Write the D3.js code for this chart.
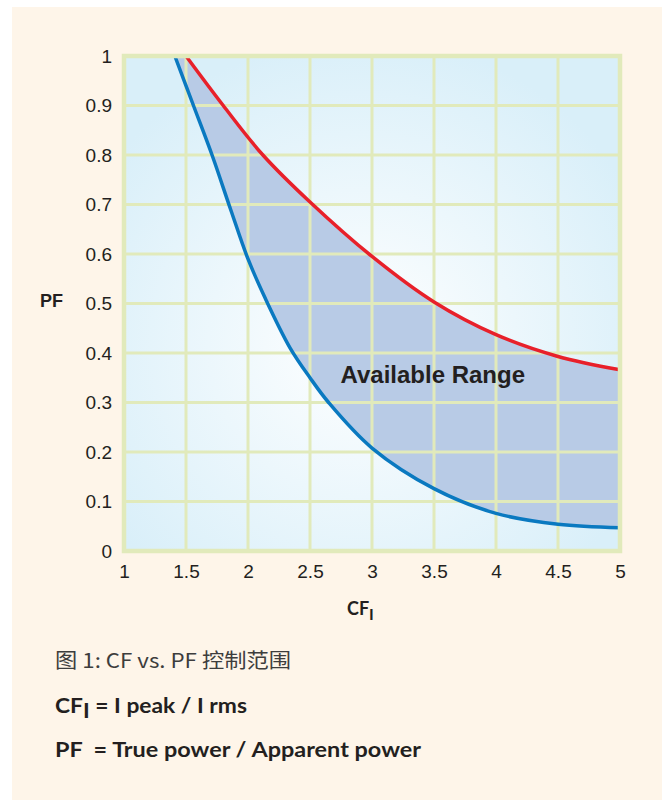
<!DOCTYPE html>
<html>
<head>
<meta charset="utf-8">
<script src="https://cdn.jsdelivr.net/npm/d3@7"></script>
<style>
  body { margin: 0; background: #fff; }
  svg { display: block; }
</style>
</head>
<body>
<svg id="chart" width="668" height="800"></svg>
<script>
// crest factor ticks and power factor ticks
const xTicks = [1, 1.5, 2, 2.5, 3, 3.5, 4, 4.5, 5];
const yTicks = [0, 0.1, 0.2, 0.3, 0.4, 0.5, 0.6, 0.7, 0.8, 0.9, 1];

// upper limit (red)
const upperCF = [1.5, 1.8, 2.12, 2.5, 3, 3.5, 4, 4.5, 5];
const upperPF = [1.0, 0.9, 0.8, 0.705, 0.595, 0.503, 0.437, 0.393, 0.366];

// lower limit (blue)
const lowerCF = [1.41, 1.56, 1.71, 1.86, 2, 2.14, 2.34, 2.5, 2.65, 3, 3.5, 4, 4.5, 5];
const lowerPF = [1.0, 0.9, 0.8, 0.69, 0.59, 0.51, 0.41, 0.35, 0.3, 0.208, 0.126, 0.076, 0.054, 0.047];

const svg = d3.select("#chart");

const x = d3.scaleLinear().domain([1, 5]).range([124, 620]);
const y = d3.scaleLinear().domain([0, 1]).range([551, 56]);

const gridColor = "#e1eabb";
const ink = "#231f20";
const sans = "'Liberation Sans', Arial, sans-serif";
const myriad = "Lato, 'Noto Sans', sans-serif";

// page panel
svg.append("rect")
  .attr("x", 12).attr("y", 7)
  .attr("width", 650).attr("height", 793)
  .attr("fill", "#fef5e9");

const defs = svg.append("defs");
const grad = defs.append("radialGradient")
  .attr("id", "plotBg")
  .attr("cx", "48%").attr("cy", "58%").attr("r", "62%");
grad.append("stop").attr("offset", "0%").attr("stop-color", "#ffffff");
grad.append("stop").attr("offset", "100%").attr("stop-color", "#d9eff9");

svg.append("rect")
  .attr("x", x(1)).attr("y", y(1))
  .attr("width", x(5) - x(1)).attr("height", y(0) - y(1))
  .attr("fill", "url(#plotBg)");

const upper = upperCF.map((c, i) => [c, upperPF[i]]);
const lower = lowerCF.map((c, i) => [c, lowerPF[i]]);

const line = d3.line()
  .x((d) => x(d[0]))
  .y((d) => y(d[1]))
  .curve(d3.curveCatmullRom.alpha(0.5));

// shaded available range: lower curve out, upper curve back
const upperBack = upper.slice().reverse();
svg.append("path")
  .attr("d", line(lower) + "L" + line(upperBack).slice(1) + "Z")
  .attr("fill", "#b8cbe6");

// grid
const grid = svg.append("g").attr("stroke", gridColor).attr("stroke-width", 3);
grid.selectAll(".vx")
  .data(xTicks.slice(1, -1))
  .join("line")
  .attr("class", "vx")
  .attr("x1", (d) => x(d)).attr("x2", (d) => x(d))
  .attr("y1", y(1)).attr("y2", y(0));
grid.selectAll(".hy")
  .data(yTicks.slice(1, -1))
  .join("line")
  .attr("class", "hy")
  .attr("y1", (d) => y(d)).attr("y2", (d) => y(d))
  .attr("x1", x(1)).attr("x2", x(5));

// curves
svg.append("path")
  .attr("d", line(upper))
  .attr("fill", "none")
  .attr("stroke", "#e8202a")
  .attr("stroke-width", 3.5);

svg.append("path")
  .attr("d", line(lower))
  .attr("fill", "none")
  .attr("stroke", "#0a79c0")
  .attr("stroke-width", 3.5);

// frame
svg.append("rect")
  .attr("x", x(1)).attr("y", y(1))
  .attr("width", x(5) - x(1)).attr("height", y(0) - y(1))
  .attr("fill", "none")
  .attr("stroke", gridColor)
  .attr("stroke-width", 4.5);

// axes (labels only, the frame and grid stand in for the domain)
const xAxis = svg.append("g")
  .attr("transform", `translate(0,${y(0) + 2})`)
  .call(d3.axisBottom(x).tickValues(xTicks).tickFormat(d3.format("")).tickSize(0).tickPadding(12));
const yAxis = svg.append("g")
  .attr("transform", `translate(${x(1) - 2},0)`)
  .call(d3.axisLeft(y).tickValues(yTicks).tickFormat(d3.format("")).tickSize(0).tickPadding(10));

[xAxis, yAxis].forEach((g) => {
  g.select(".domain").remove();
  g.selectAll("text")
    .attr("font-family", sans)
    .attr("font-size", 19)
    .attr("fill", ink);
});

svg.append("text")
  .attr("x", 40).attr("y", 307)
  .attr("font-family", sans)
  .attr("font-weight", "bold")
  .attr("font-size", 18)
  .attr("fill", ink)
  .text("PF");

const cfLabel = svg.append("text")
  .attr("x", 347).attr("y", 615)
  .attr("font-family", myriad)
  .attr("font-weight", "bold")
  .attr("font-size", 18)
  .attr("fill", ink);
cfLabel.append("tspan").text("CF");
cfLabel.append("tspan").attr("dy", 5).attr("font-size", 16).text("I");

svg.append("text")
  .attr("x", x(3.49)).attr("y", y(0.34))
  .attr("text-anchor", "middle")
  .attr("font-family", sans)
  .attr("font-weight", "bold")
  .attr("font-size", 24)
  .attr("fill", ink)
  .text("Available Range");

// caption block
svg.append("text")
  .attr("x", 55).attr("y", 668)
  .attr("font-family", "'Noto Sans CJK SC', sans-serif")
  .attr("font-size", 20)
  .attr("fill", "#3d3d3d")
  .attr("textLength", 236)
  .attr("lengthAdjust", "spacingAndGlyphs")
  .text("图 1: CF vs. PF 控制范围");

const def1 = svg.append("text")
  .attr("x", 55).attr("y", 713)
  .attr("font-family", myriad)
  .attr("font-weight", "bold")
  .attr("font-size", 21)
  .attr("fill", ink)
  .attr("textLength", 192)
  .attr("lengthAdjust", "spacingAndGlyphs");
def1.append("tspan").text("CF");
def1.append("tspan").attr("dy", 5).text("I");
def1.append("tspan").attr("dy", -5).text(" = I peak / I rms");

svg.append("text")
  .attr("x", 55).attr("y", 757)
  .attr("font-family", myriad)
  .attr("font-weight", "bold")
  .attr("font-size", 21)
  .attr("fill", ink)
  .attr("textLength", 366)
  .attr("lengthAdjust", "spacingAndGlyphs")
  .style("white-space", "pre")
  .text("PF  = True power / Apparent power");
</script>
</body>
</html>
